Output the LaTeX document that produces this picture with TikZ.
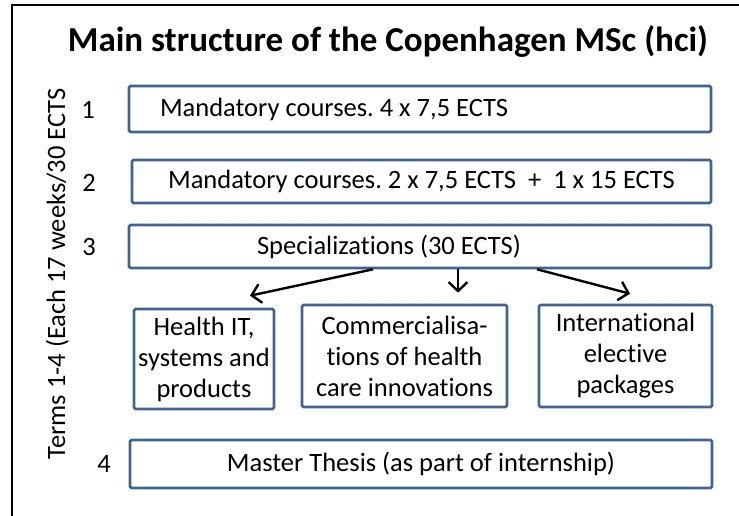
\documentclass[tikz,border=0pt]{standalone}
\usepackage{fontspec}
\setmainfont{Carlito}[Ligatures=NoCommon]
\usetikzlibrary{arrows.meta}
\definecolor{boxblue}{HTML}{3F6393}

\begin{document}
\frenchspacing
\begin{tikzpicture}[x=1pt, y=-1pt,
    box/.style={
        draw=boxblue,
        line width=2.6pt,
        rounded corners=1.5pt,
        inner sep=0pt,
        font=\fontsize{26.5}{31}\selectfont
    },
    subbox/.style={
        box,
        align=center
    },
    num/.style={
        font=\fontsize{26.5}{31}\selectfont
    },
    arrow/.style={
        -{Straight Barb[length=9pt,width=19pt]},
        line width=2.4pt,
        black
    }
]

\useasboundingbox (0,0) rectangle (739,516);

%%%%%%%%%%%%%%%%%%%%%%%%
% Frame and title
%%%%%%%%%%%%%%%%%%%%%%%%

\draw[line width=1.8pt] (12,516) -- (12,5) -- (739,5);

\node[font=\fontsize{35}{42}\selectfont\bfseries, anchor=base] (title) at (388,52)
    {Main structure of the Copenhagen MSc (hci)};

\node[num, rotate=90, anchor=base] (terms) at (65,274)
    {Terms 1-4 (Each 17 weeks/30 ECTS};

%%%%%%%%%%%%%%%%%%%%%%%%
% Terms
%%%%%%%%%%%%%%%%%%%%%%%%

% --- Term 1 ---
\node[num] (n1) at (88,110) {1};
\node[box, minimum height=46pt, text width=520pt, inner xsep=31pt, align=flush left]
    (term1) at (420,109) {Mandatory courses. 4 x 7,5 ECTS};

% --- Term 2 ---
\node[num] (n2) at (89,183) {2};
\node[box, minimum width=579pt, minimum height=43pt]
    (term2) at (421.5,181.5) {Mandatory courses. 2 x 7,5 ECTS\ \ + \ 1 x 15 ECTS};

% --- Term 3 ---
\node[num] (n3) at (89,247) {3};
\node[box, minimum height=43pt, text width=326pt, inner xsep=128pt, align=flush left]
    (spec) at (420,246.5) {Specializations (30 ECTS)};

% --- Specializations ---
\node[subbox, minimum width=140pt, minimum height=100pt]
    (health) at (204,359) {Health IT,\\systems and\\products};
\node[subbox, minimum width=205pt, minimum height=102pt]
    (comm) at (404.5,356) {Commercialisa-\\tions of health\\care innovations};
\node[subbox, minimum width=173pt, minimum height=102pt]
    (intl) at (625.5,356) {International\\elective\\packages};

% --- Term 4 ---
\node[num] (n4) at (104,464) {4};
\node[box, minimum width=582pt, minimum height=48pt]
    (thesis) at (421,464) {Master Thesis (as part of internship)};

%%%%%%%%%%%%%%%%%%%%%%%%
% Arrows
%%%%%%%%%%%%%%%%%%%%%%%%

\draw[arrow] ([xshift=-47pt]spec.south) -- ([shift={(46,-12)}]health.north);
\draw[arrow] ([xshift=38pt]spec.south) -- ([shift={(53.5,-11)}]comm.north);
\draw[arrow] ([xshift=117pt]spec.south) -- ([shift={(4.5,-10)}]intl.north);

\end{tikzpicture}
\end{document}
